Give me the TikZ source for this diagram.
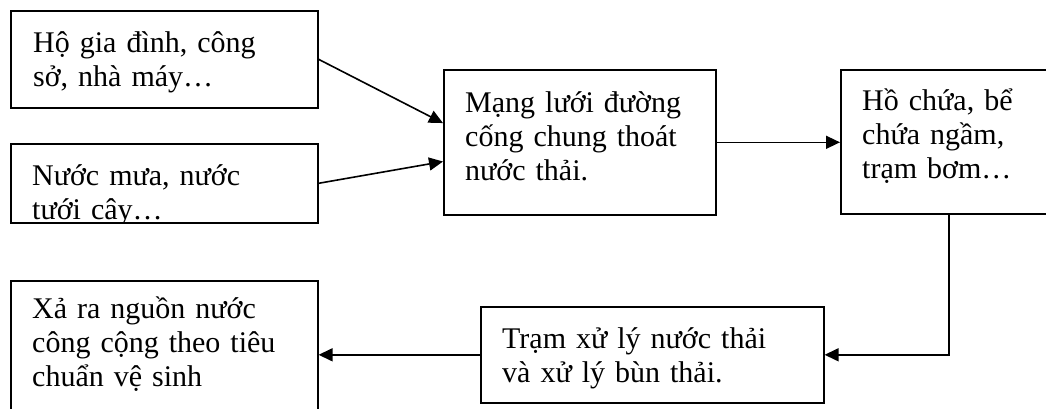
\documentclass[tikz,border=0pt]{standalone}
\usepackage{fontspec}
\setmainfont{Liberation Serif}
\usetikzlibrary{arrows.meta,positioning,calc}

\tikzset{
  box/.style={draw, line width=1.6pt, inner sep=0pt, anchor=north west},
  txt/.style={anchor=base west, inner sep=0pt, align=left, text width=330pt,
    font=\fontsize{30}{34}\selectfont},
  flow/.style={line width=1.6pt, -{Triangle[length=14pt,width=13pt]}}
}

\begin{document}
\begin{tikzpicture}[x=1pt, y=-1pt]
    \useasboundingbox (0,0) rectangle (1046,408);
    \clip (0,0) rectangle (1046,408);

    % boxes
    \node [box, minimum width=307pt, minimum height=97pt]  (hogd)     at (10,10)  {};
    \node [box, minimum width=307pt, minimum height=79pt]  (nuocmua)  at (10,143) {};
    \node [box, minimum width=272pt, minimum height=145pt] (mangluoi) at (443,69) {};
    \node [box, minimum width=216pt, minimum height=144pt] (hochua)   at (840,69) {};
    \node [box, minimum width=343pt, minimum height=96pt]  (tramxl)   at (480,306) {};
    \node [box, minimum width=307pt, minimum height=140pt] (xara)     at (10,280) {};

    % texts
    \node [txt] (hogd-t) at ($(hogd.north west)+(23,42)$) {Hộ gia đình, công\\sở, nhà máy…};
    \begin{scope}
        \clip (nuocmua.north west) rectangle (nuocmua.south east);
        \node [txt] (nuocmua-t) at ($(nuocmua.north west)+(22,42)$) {Nước mưa, nước\\tưới cây…};
    \end{scope}
    \node [txt] (mangluoi-t) at ($(mangluoi.north west)+(22,43)$) {Mạng lưới đường\\cống chung thoát\\nước thải.};
    \node [txt] (hochua-t) at ($(hochua.north west)+(22,41)$) {Hồ chứa, bể\\chứa ngầm,\\trạm bơm…};
    \node [txt] (tramxl-t) at ($(tramxl.north west)+(22,42)$) {Trạm xử lý nước thải\\và xử lý bùn thải.};
    \node [txt] (xara-t) at ($(xara.north west)+(22,38)$) {Xả ra nguồn nước\\công cộng theo tiêu\\chuẩn vệ sinh};

    % connectors
    \draw [flow] (hogd.east) -- (mangluoi.172);
    \draw [flow] (nuocmua.east) -- (mangluoi.188);
    \draw [flow] (mangluoi.east) -- (mangluoi.east -| hochua.west);
    \draw [flow] (hochua.south) |- (tramxl.east);
    \draw [flow] (tramxl.west) -- (tramxl.west -| xara.east);
\end{tikzpicture}
\end{document}
